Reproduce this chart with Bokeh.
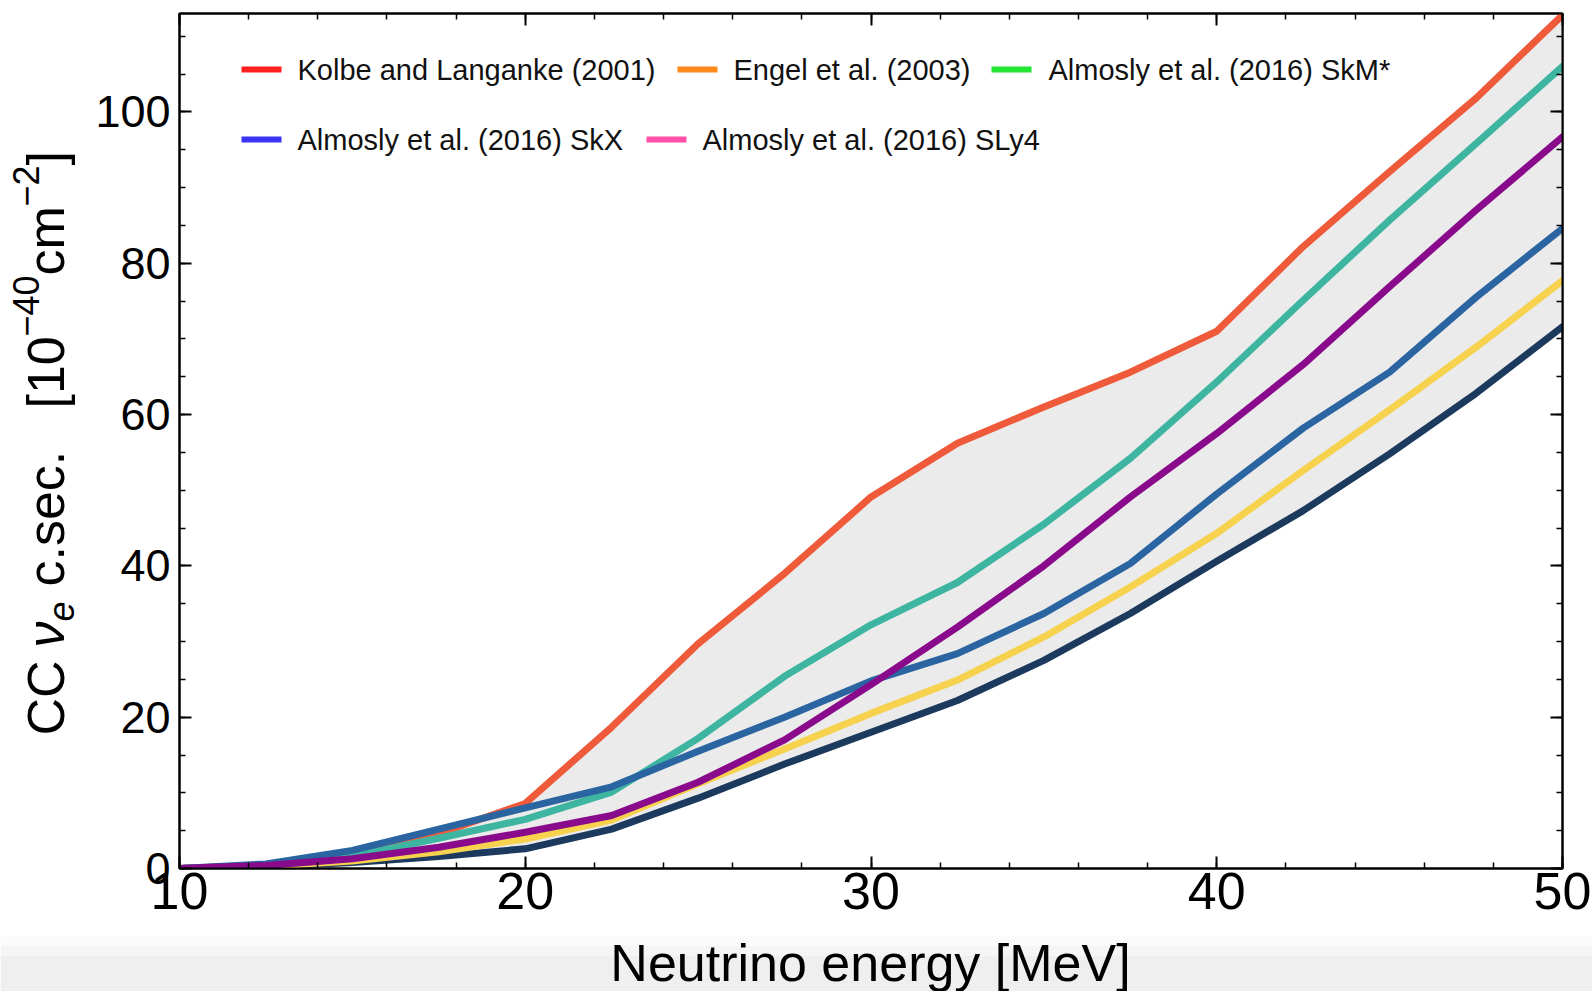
from math import pi

from bokeh.core.properties import value
from bokeh.embed import file_html
from bokeh.layouts import column, row
from bokeh.models import CustomJSTickFormatter, FixedTicker, Label, LinearAxis, Range1d
from bokeh.plotting import figure
from bokeh.resources import INLINE

# Neutrino energy grid [MeV]
energy = [10, 12.5, 15, 17.5, 20, 22.5, 25, 27.5, 30, 32.5, 35, 37.5, 40, 42.5, 45, 47.5, 50]

# Charged-current nu_e cross sections [1e-40 cm^2]
sigma_red = [0, 0.5, 1.9, 4.6, 8.6, 18.7, 29.7, 39.0, 49.1, 56.2, 61.0, 65.6, 71.0, 82.2, 92.1, 101.8, 112.8]
sigma_teal = [0, 0.4, 1.6, 4.0, 6.5, 10.1, 17.2, 25.4, 32.2, 37.8, 45.5, 54.2, 64.3, 75.1, 85.7, 95.8, 106.0]
sigma_purple = [0, 0.4, 1.3, 2.8, 4.8, 7.0, 11.4, 17.0, 24.3, 31.9, 40.0, 49.1, 57.5, 66.6, 76.9, 87.0, 96.7]
sigma_blue = [0, 0.6, 2.4, 5.2, 8.0, 10.8, 15.5, 20.0, 24.8, 28.4, 33.7, 40.3, 49.5, 58.2, 65.6, 75.5, 84.6]
sigma_yellow = [0, 0.3, 1.0, 2.2, 3.9, 6.4, 11.2, 15.8, 20.5, 24.9, 30.6, 37.2, 44.3, 52.6, 60.6, 68.9, 77.7]
sigma_navy = [0, 0.25, 0.8, 1.6, 2.6, 5.2, 9.3, 13.8, 18.0, 22.2, 27.5, 33.7, 40.6, 47.3, 54.8, 62.8, 71.6]

# Legend entries (as printed) and their swatch colours
legend_labels = [
    "Kolbe and Langanke (2001)",
    "Engel et al. (2003)",
    "Almosly et al. (2016) SkM*",
    "Almosly et al. (2016) SkX",
    "Almosly et al. (2016) SLy4",
]
legend_colors = ["#ff1f1f", "#ff8a1c", "#22e633", "#3a35f5", "#ff4fa8"]

# Tick values
x_major = [10, 20, 30, 40, 50]
x_minor = list(range(10, 51, 2))
y_major = [0, 20, 40, 60, 80, 100]
y_minor = list(range(0, 115, 5))

FONT = "Liberation Sans"
X_MIN, X_MAX = 10, 50
Y_MIN, Y_MAX = 0, 113

PAGE_W, PAGE_H = 1592, 991
TOP_H = 935          # height of the plot row
STRIP_H = PAGE_H - TOP_H
YLAB_W = 88          # strip holding the rotated y title

MAIN_W = PAGE_W - YLAB_W
B_LEFT, B_RIGHT, B_TOP, B_BOTTOM = 179 - YLAB_W, 30, 13, TOP_H - 868
FRAME_L, FRAME_R = B_LEFT, MAIN_W - B_RIGHT
FRAME_T, FRAME_B = B_TOP, TOP_H - B_BOTTOM


def dx(px):
    """Pixel column in the main canvas -> data x."""
    return X_MIN + (px - FRAME_L) * (X_MAX - X_MIN) / (FRAME_R - FRAME_L)


def dy(py):
    """Pixel row in the main canvas -> data y."""
    return Y_MIN + (FRAME_B - py) * (Y_MAX - Y_MIN) / (FRAME_B - FRAME_T)


def blank_panel(w, h, fill="white"):
    f = figure(frame_width=w, frame_height=h, title=None,
               x_range=Range1d(0, w), y_range=Range1d(0, h),
               x_axis_type=None, y_axis_type=None,
               output_backend="svg", toolbar_location=None,
               min_border=0, min_border_left=0, min_border_right=0,
               min_border_top=0, min_border_bottom=0)
    f.grid.visible = False
    f.outline_line_color = None
    f.background_fill_color = fill
    f.border_fill_color = fill
    return f


# ---------------- main plot ----------------
p = figure(
    width=MAIN_W, height=TOP_H, title=None,
    x_range=Range1d(X_MIN, X_MAX), y_range=Range1d(Y_MIN, Y_MAX),
    output_backend="svg", toolbar_location=None,
    min_border_left=B_LEFT, min_border_right=B_RIGHT,
    min_border_top=B_TOP, min_border_bottom=B_BOTTOM,
)
p.background_fill_color = "white"
p.border_fill_color = "white"
p.outline_line_color = "black"
p.outline_line_width = 2
p.xgrid.visible = False
p.ygrid.visible = False

# Envelope of all calculations
series = [sigma_navy, sigma_yellow, sigma_red, sigma_teal, sigma_blue, sigma_purple]
colors = ["#1b3a5e", "#f6d24e", "#ef5b3a", "#3db5a0", "#2a65a2", "#8a0a8c"]
upper = [max(vals) for vals in zip(*series)]
lower = [min(vals) for vals in zip(*series)]
p.varea(x=energy, y1=lower, y2=upper, fill_color="#ebebeb")

for vals, col in zip(series, colors):
    p.line(energy, vals, line_color=col, line_width=7, line_join="round", line_cap="round")

# Axes: labelled bottom/left, mirrored tick-only top/right
no_labels = CustomJSTickFormatter(code="return ''")
p.add_layout(LinearAxis(formatter=no_labels), "right")
p.add_layout(LinearAxis(formatter=no_labels), "above")

for ax in p.xaxis:
    ax.ticker = FixedTicker(ticks=x_major, minor_ticks=x_minor)
for ax in p.yaxis:
    ax.ticker = FixedTicker(ticks=y_major, minor_ticks=y_minor)

for ax in list(p.xaxis) + list(p.yaxis):
    ax.axis_line_color = "black"
    ax.axis_line_width = 2
    ax.major_tick_in = 12
    ax.major_tick_out = 0
    ax.minor_tick_in = 6
    ax.minor_tick_out = 0
    ax.major_tick_line_width = 2
    ax.minor_tick_line_width = 1.5
    ax.major_tick_line_color = "black"
    ax.minor_tick_line_color = "black"
    ax.major_label_text_font = FONT
    ax.major_label_text_color = "black"

p.below[0].major_label_text_font_size = "52px"
p.below[0].major_label_standoff = 4
p.left[0].major_label_text_font_size = "45px"
p.left[0].major_label_standoff = 9

# Legend, two rows (page pixel slots: swatch start, text start, row centre)
legend_slots = [(241, 297, 69), (677, 733, 69), (991, 1048, 69), (241, 297, 139), (646, 702, 139)]
sw_x0 = [dx(s[0] - YLAB_W) for s in legend_slots]
sw_x1 = [dx(s[0] + 40 - YLAB_W) for s in legend_slots]
sw_y = [dy(s[2]) for s in legend_slots]
p.segment(x0=sw_x0, y0=sw_y, x1=sw_x1, y1=sw_y, line_color=legend_colors, line_width=6)
for (sx, tx, ty), lab in zip(legend_slots, legend_labels):
    p.add_layout(Label(
        x=dx(tx - YLAB_W), y=dy(ty), text=lab,
        text_font=FONT, text_font_size="29px", text_align="left",
        text_baseline="middle", text_color="#111111",
    ))

# ---------------- y title (rotated, with sub/superscripts) ----------------
# (text, start row on the page, centre column of the glyph band, size, style)
ylab = blank_panel(YLAB_W, TOP_H)
y_title = [
    ("CC", 722, 45, "52px", "normal"),
    ("\u03bd", 634, 45, "52px", "italic"),
    ("e", 608, 60, "36px", "italic"),
    ("c.sec.", 573, 45, "52px", "normal"),
    ("[10", 395, 45, "52px", "normal"),
    ("\u221240", 323, 25, "36px", "normal"),
    ("cm", 262, 45, "52px", "normal"),
    ("\u22122", 193, 25, "36px", "normal"),
    ("]", 152, 45, "52px", "normal"),
]
for txt, py, px, size, style in y_title:
    ylab.text(x=[px], y=[TOP_H - py], text=[txt], angle=pi / 2,
              text_font=value(FONT), text_font_size=value(size),
              text_font_style=style, text_align="left",
              text_baseline="middle", text_color="black")

# ---------------- x title strip (soft grey band at the foot) ----------------
xlab = blank_panel(PAGE_W, STRIP_H)
band_shades = ["#fbfbfb", "#f5f5f5", "#efefef"]
band_bottom = [46, 36, 0]
band_top = [STRIP_H, 46, 36]
xlab.quad(left=0, right=PAGE_W, bottom=band_bottom, top=band_top,
          fill_color=band_shades, line_color=None)
xlab.text(x=[870], y=[PAGE_H - 962], text=["Neutrino energy [MeV]"],
          text_font=value(FONT), text_font_size=value("52px"),
          text_align="center", text_baseline="middle", text_color="black")

page = column(row(ylab, p, spacing=0), xlab, spacing=0)

open("out.html", "w").write(file_html(page, INLINE))
